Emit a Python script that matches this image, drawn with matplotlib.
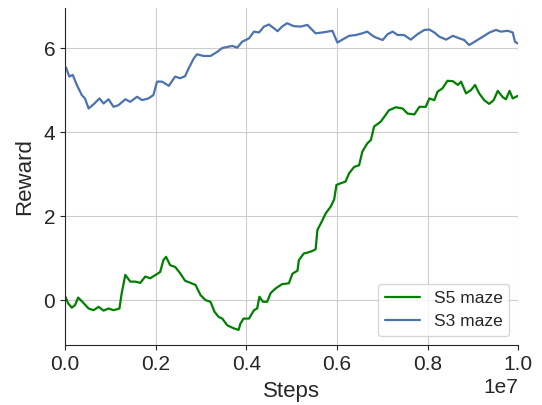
import numpy as np
import matplotlib
matplotlib.use("Agg")
import matplotlib.pyplot as plt
import seaborn as sns

# steps are in units of 1e7
s5_steps = [0.0, 0.007, 0.015, 0.022, 0.029, 0.040, 0.052, 0.063, 0.074, 0.085,
            0.096, 0.107, 0.120, 0.125, 0.133, 0.144, 0.155, 0.166, 0.177, 0.188,
            0.203, 0.210, 0.217, 0.223, 0.232, 0.243, 0.254, 0.265, 0.277, 0.288,
            0.299, 0.310, 0.321, 0.330, 0.339, 0.347, 0.358, 0.372, 0.383, 0.387,
            0.394, 0.406, 0.417, 0.424, 0.429, 0.437, 0.446, 0.454, 0.465, 0.479,
            0.494, 0.502, 0.513, 0.516, 0.527, 0.535, 0.546, 0.553, 0.557, 0.568,
            0.575, 0.586, 0.594, 0.599, 0.608, 0.619, 0.627, 0.638, 0.649, 0.656,
            0.667, 0.675, 0.682, 0.697, 0.715, 0.730, 0.745, 0.756, 0.771, 0.782,
            0.796, 0.804, 0.815, 0.822, 0.833, 0.844, 0.856, 0.867, 0.874, 0.885,
            0.896, 0.905, 0.914, 0.925, 0.936, 0.946, 0.955, 0.966, 0.973, 0.981,
            0.988, 0.999]
s5_reward = [0.10, -0.08, -0.18, -0.12, 0.06, -0.06, -0.20, -0.24, -0.16, -0.25,
             -0.20, -0.24, -0.20, 0.16, 0.60, 0.44, 0.44, 0.41, 0.56, 0.52,
             0.62, 0.67, 0.95, 1.03, 0.83, 0.79, 0.64, 0.46, 0.41, 0.36,
             0.12, 0.00, -0.04, -0.28, -0.40, -0.44, -0.60, -0.67, -0.71, -0.56,
             -0.44, -0.44, -0.24, -0.20, 0.08, -0.04, -0.04, 0.17, 0.28, 0.38,
             0.40, 0.63, 0.70, 0.95, 1.11, 1.13, 1.17, 1.21, 1.67, 1.90,
             2.06, 2.22, 2.40, 2.74, 2.78, 2.82, 3.02, 3.17, 3.21, 3.53,
             3.73, 3.81, 4.13, 4.25, 4.52, 4.59, 4.56, 4.44, 4.42, 4.60,
             4.60, 4.80, 4.76, 4.96, 5.04, 5.22, 5.21, 5.12, 5.20, 4.92,
             5.00, 5.12, 4.92, 4.76, 4.67, 4.76, 4.98, 4.83, 4.78, 4.98,
             4.80, 4.86]

s3_steps = [0.0, 0.002, 0.0095, 0.017, 0.026, 0.037, 0.044, 0.052, 0.063, 0.076,
            0.085, 0.096, 0.107, 0.118, 0.133, 0.144, 0.159, 0.170, 0.184, 0.195,
            0.203, 0.214, 0.229, 0.243, 0.254, 0.265, 0.273, 0.284, 0.291, 0.306,
            0.321, 0.336, 0.347, 0.369, 0.380, 0.391, 0.406, 0.417, 0.428, 0.439,
            0.450, 0.461, 0.469, 0.479, 0.490, 0.505, 0.520, 0.535, 0.542, 0.553,
            0.568, 0.579, 0.590, 0.601, 0.612, 0.627, 0.642, 0.656, 0.667, 0.679,
            0.686, 0.701, 0.712, 0.723, 0.734, 0.748, 0.763, 0.778, 0.793, 0.804,
            0.815, 0.826, 0.841, 0.856, 0.870, 0.881, 0.892, 0.907, 0.922, 0.937,
            0.951, 0.962, 0.977, 0.988, 0.993, 0.999]
s3_reward = [5.50, 5.54, 5.32, 5.36, 5.12, 4.88, 4.80, 4.56, 4.66, 4.80,
             4.68, 4.78, 4.60, 4.64, 4.78, 4.72, 4.84, 4.76, 4.80, 4.88,
             5.20, 5.20, 5.10, 5.32, 5.28, 5.33, 5.52, 5.75, 5.85, 5.81,
             5.81, 5.91, 6.00, 6.05, 6.01, 6.15, 6.23, 6.39, 6.37, 6.51,
             6.56, 6.47, 6.40, 6.51, 6.59, 6.52, 6.51, 6.55, 6.47, 6.35,
             6.37, 6.39, 6.41, 6.13, 6.20, 6.29, 6.31, 6.35, 6.39, 6.29,
             6.25, 6.19, 6.33, 6.39, 6.31, 6.31, 6.20, 6.33, 6.43, 6.44,
             6.37, 6.27, 6.20, 6.29, 6.23, 6.19, 6.07, 6.17, 6.27, 6.37,
             6.43, 6.39, 6.41, 6.37, 6.15, 6.11]

sns.set_style("ticks", {"axes.grid": True})
plt.rcParams["font.family"] = ["Liberation Sans", "DejaVu Sans"]

fig = plt.figure(figsize=(5.42, 4.05), dpi=100)
ax = fig.add_axes([0.12, 0.148, 0.836, 0.832])

ax.plot(np.array(s5_steps) * 1e7, s5_reward, color="green", lw=1.6, label="S5 maze")
ax.plot(np.array(s3_steps) * 1e7, s3_reward, color="#4C72B0", lw=1.6, label="S3 maze")

ax.set_xlim(0, 1e7)
ax.set_ylim(-1.07, 6.95)
ax.set_yticks([0, 2, 4, 6])
ax.set_xlabel("Steps", fontsize=16, labelpad=5)
ax.set_ylabel("Reward", fontsize=16, labelpad=6)
ax.tick_params(labelsize=15)
ax.xaxis.get_offset_text().set_fontsize(15)
sns.despine(ax=ax)
ax.legend(loc="lower right", fontsize=12.5)

fig.savefig("out.png", dpi=100)
